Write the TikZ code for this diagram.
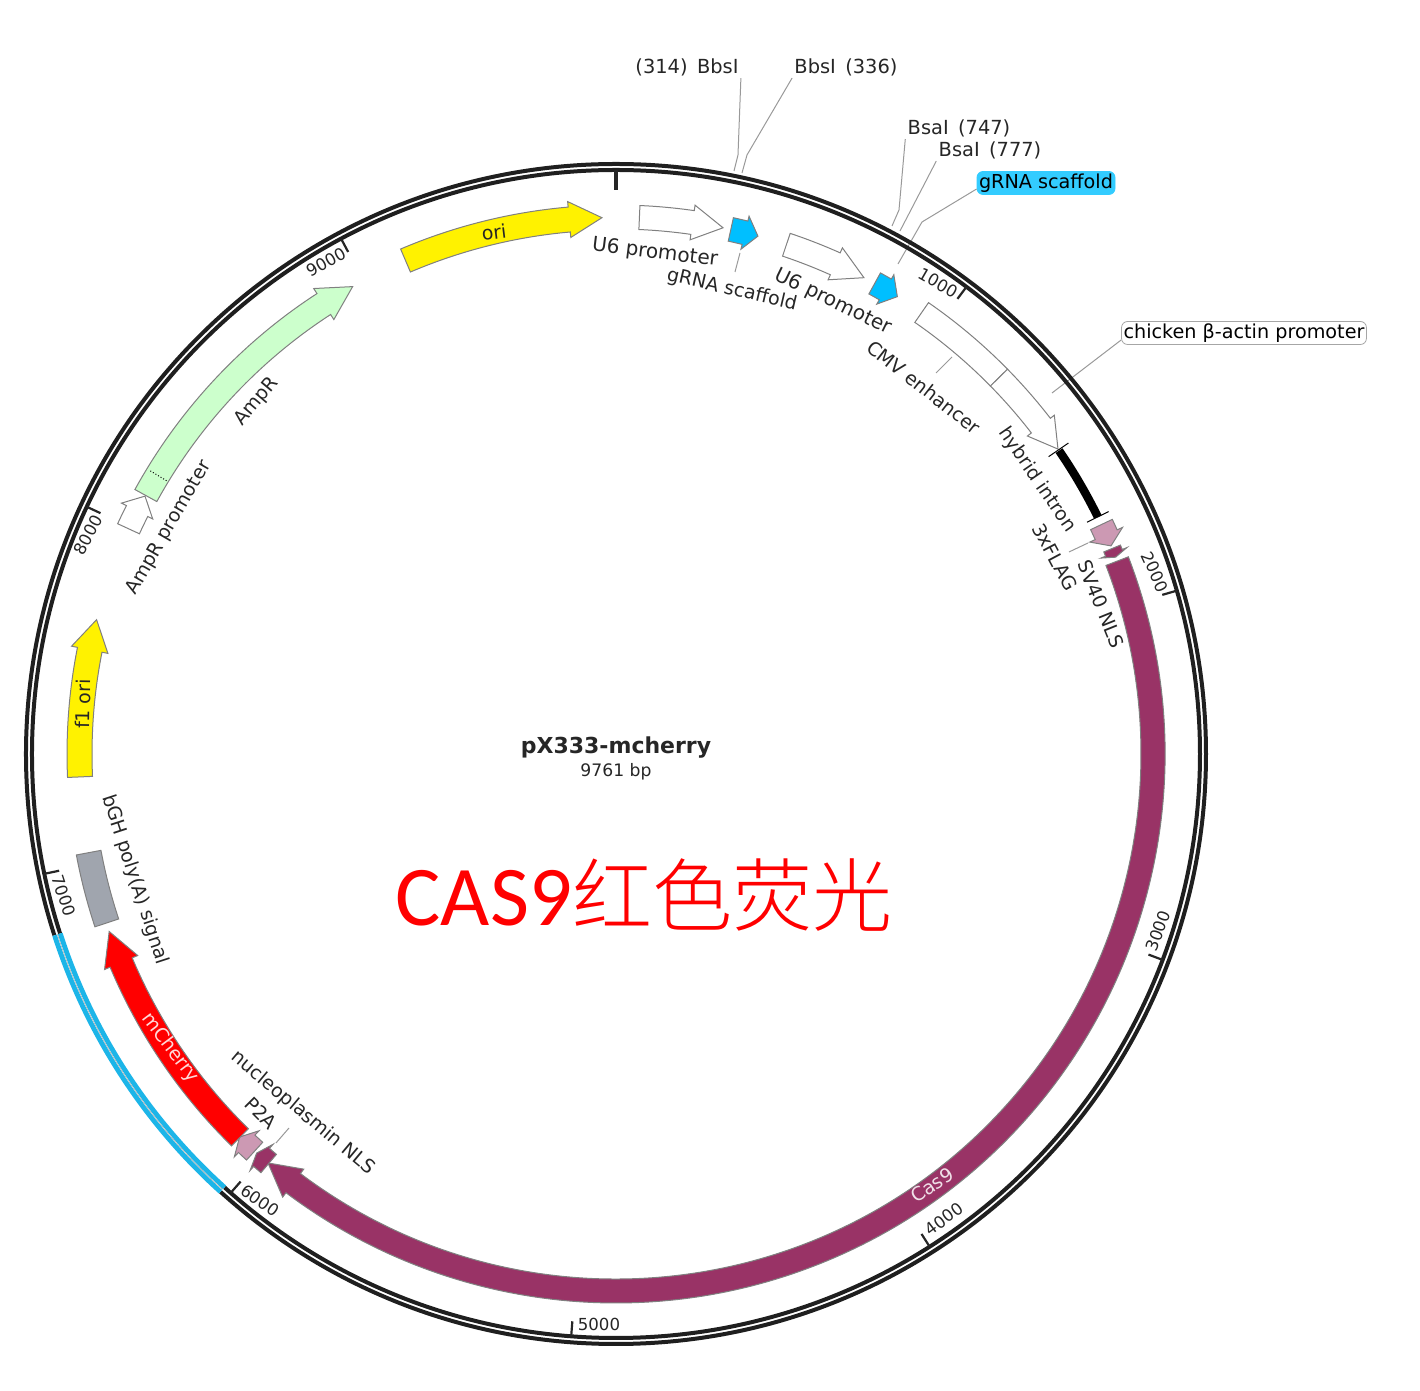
\documentclass[tikz,border=0pt]{standalone}
\usepackage{fontspec}
\setmainfont{DejaVu Sans}
\newfontfamily\calfont{Carlito}
\newfontfamily\cjkfont{Noto Sans CJK SC Light}
\usepackage{xcolor}
\usepackage{tikz}
\usetikzlibrary{positioning, calc}

\definecolor{feablue}{HTML}{00BFFF}
\definecolor{ringblue}{HTML}{1CB5E8}
\definecolor{tagblue}{HTML}{33CCFF}
\definecolor{casred}{HTML}{993366}
\definecolor{flagpink}{HTML}{CC99B3}
\definecolor{polygrey}{HTML}{A0A5AE}
\definecolor{ampgreen}{HTML}{CCFFCC}

% fill, tail angle, tip angle, head angle, inner r, outer r, barb
\newcommand{\featarrow}[7]{
  \draw[feat, fill=#1] (#2:#5) -- (#2:#6) arc[start angle=#2, end angle=#4, radius=#6]
    -- (#4:{#6+#7}) -- (#3:{(#5+#6)/2}) -- (#4:{#5-#7}) -- (#4:#5)
    arc[start angle=#4, end angle=#2, radius=#5] -- cycle;
}

\begin{document}
\begin{tikzpicture}[
    x=0.5pt, y=0.5pt,
    ring/.style={draw=black!88, line width=2pt},
    ringb/.style={draw=ringblue, line width=2.4pt},
    tick/.style={draw=black!85, line width=1.1pt},
    feat/.style={draw=black!50, line width=0.5pt, line join=miter},
    lead/.style={draw=black!40, line width=0.5pt},
    lab/.style={inner sep=0pt, font=\fontsize{9.5}{12}\selectfont, text=black!85},
    site/.style={inner sep=1pt, font=\fontsize{9.7}{11}\selectfont, text=black!85},
    num/.style={inner sep=0pt, font=\fontsize{8.3}{10}\selectfont, text=black!85},
    tagbox/.style={draw, rounded corners=3pt, inner sep=1pt, minimum height=11.5pt, font=\fontsize{9.6}{11}\selectfont},
  ]
  \useasboundingbox (-616,754) rectangle (804,-637);

  % Site labels and leaders
  \node[site] (bbs314) at (71,687) {(314)\, BbsI};
  \node[site] (bbs336) at (230,687) {BbsI\, (336)};
  \node[site] (bsa747) at (343,626) {BsaI\, (747)};
  \node[site] (bsa777) at (374,604) {BsaI\, (777)};
  \node[tagbox, draw=tagblue, fill=tagblue, minimum width=69pt] (tagscaf) at (430,571) {gRNA scaffold};
  \node[tagbox, draw=black!35, fill=white, minimum width=122pt] (tagact) at (628,421) {chicken β-actin promoter};
  \coordinate (c314a) at (122,599);
  \coordinate (c314b) at (118,583);
  \coordinate (c336a) at (131,599);
  \coordinate (c336b) at (126,581);
  \coordinate (c747a) at (283,544);
  \coordinate (c747b) at (276,528);
  \coordinate (c777) at (284,523);
  \coordinate (cscafa) at (306,532);
  \coordinate (cscafb) at (282,490);
  \coordinate (cact) at (436,361);
  \draw[lead] (bbs314.south east) -- (c314a) -- (c314b);
  \draw[lead] (bbs336.south west) -- (c336a) -- (c336b);
  \draw[lead] (bsa747.south west) -- (c747a) -- (c747b);
  \draw[lead] (bsa777.south west) -- (c777);
  \draw[lead] ([yshift=-3pt]tagscaf.west) -- (cscafa) -- (cscafb);
  \draw[lead] ([yshift=-3.5pt]tagact.west) -- (cact);

  % Backbone
  \draw[ring] (0,0) circle[radius=590];
  \draw[ring] (0,0) circle[radius=584];
  \fill[white] (197.9:580.5) arc[start angle=197.9, end angle=227.9, radius=580.5]
    -- (227.9:593.5) arc[start angle=227.9, end angle=197.9, radius=593.5] -- cycle;
  \draw[ringb] (197.9:590) arc[start angle=197.9, end angle=227.9, radius=590];
  \draw[ringb] (197.9:584) arc[start angle=197.9, end angle=227.9, radius=584];
  \draw[draw=black!30, line width=0.3pt] (197.9:587) arc[start angle=197.9, end angle=227.9, radius=587];

  % Ticks
  \draw[tick, line width=2pt] (90:584) -- (90:564);
  \foreach \tickang in {53.12, 16.24, -20.64, -57.52, -94.4, -131.28, -168.16, 154.96, 118.08}
    \draw[tick] (\tickang:584) -- (\tickang:569);
  \node[num, rotate=-30] (n1000) at (322,471) {1000};
  \node[num, rotate=-65] (n2000) at (539,182) {2000};
  \node[num, rotate=70] (n3000) at (542,-177) {3000};
  \node[num, rotate=37] (n4000) at (328,-465) {4000};
  \node[num] (n5000) at (-17,-570) {5000};
  \node[num, rotate=-35] (n6000) at (-356,-447) {6000};
  \node[num, rotate=-72] (n7000) at (-552,-142) {7000};
  \node[num, rotate=62] (n8000) at (-528,219) {8000};
  \node[num, rotate=29] (n9000) at (-290,492) {9000};

  % Features
  \featarrow{yellow}{113.1}{91.5}{95}{524}{549}{5.5}
  \featarrow{white}{87.5}{78.5}{81.8}{525}{549}{5.5}
  \featarrow{feablue}{77.65}{74.67}{76.1}{525}{549}{5}
  \featarrow{white}{71.5}{62.5}{65.9}{525}{549}{5.5}
  \featarrow{feablue}{61.2}{58.4}{59.9}{525}{549}{5}
  \draw[feat, fill=white] (55.3:525) -- (55.3:549) arc[start angle=55.3, end angle=44.5, radius=549] -- (44.5:525) arc[start angle=44.5, end angle=55.3, radius=525] -- cycle;
  \featarrow{white}{44.5}{34.6}{37.7}{525}{549}{5}
  \draw[line width=4.2pt] (34.4:537) arc[start angle=34.4, end angle=26.2, radius=537];
  \draw[line width=0.5pt] (34.5:525) -- (34.5:549);
  \draw[line width=0.5pt] (26.2:525) -- (26.2:549);
  \featarrow{flagpink}{25.3}{22.8}{24.1}{525}{549}{6}
  \featarrow{casred}{22.5}{21.5}{22}{528}{546}{5}
  \featarrow{casred}{21.05}{-130.4}{-126.95}{525}{549}{5.5}
  \featarrow{casred}{-130.3}{-132}{-131.3}{525}{549}{5.5}
  \featarrow{flagpink}{-132.3}{-134.5}{-133.45}{525}{549}{6}
  \featarrow{red}{-134.45}{-160.7}{-157.15}{525}{549}{6}
  \draw[feat, fill=polygrey] (190.6:524) -- (190.6:549) arc[start angle=190.6, end angle=198.35, radius=549] -- (198.35:524) arc[start angle=198.35, end angle=190.6, radius=524] -- cycle;
  \featarrow{yellow}{182.45}{165.5}{168.8}{524}{549}{6}
  \featarrow{white}{155.2}{151.3}{153.1}{525}{549}{5.5}
  \featarrow{ampgreen}{151.2}{119.4}{123}{524}{549}{6}
  \draw[densely dotted, line width=0.5pt] (148.7:526) -- (148.7:547);

  % Feature labels
  \node[lab, rotate=7] (ori) at (-122,522) {ori};
  \node[lab, font=\fontsize{10}{12}\selectfont, rotate=-7] (u6a) at (39,501) {U6 promoter};
  \node[lab, rotate=-13] (scafa) at (116,464) {gRNA scaffold};
  \node[lab, font=\fontsize{10}{12}\selectfont, rotate=-26] (u6b) at (217,452) {U6 promoter};
  \node[lab, rotate=-38] (cmv) at (308,367) {CMV enhancer};
  \node[lab, rotate=-55.5] (intron) at (421,274) {hybrid intron};
  \node[lab, rotate=-62] (flag) at (439,197) {3xFLAG};
  \node[lab, rotate=-68] (sv40) at (485,150) {SV40 NLS};
  \node[lab, rotate=33, text=casred!15] (cas9) at (316,-431) {Cas9};
  \node[lab, rotate=-53, text=red!15] (mcherry) at (-446,-294) {mCherry};
  \node[lab, rotate=-40] (nucleo) at (-313,-359) {nucleoplasmin NLS};
  \node[lab, rotate=-45] (p2a) at (-355,-359) {P2A};
  \node[lab, rotate=-72] (bgh) at (-481,-126) {bGH poly(A) signal};
  \node[lab, rotate=50] (ampr) at (-359,352) {AmpR};
  \node[lab, rotate=60] (amprp) at (-447,226) {AmpR promoter};
  \node[lab, rotate=89] (f1ori) at (-533,50) {f1 ori};

  % Short leaders
  \coordinate (cscafc) at (124,501);
  \coordinate (cscafd) at (119,482);
  \coordinate (ccmva) at (336,397);
  \coordinate (ccmvb) at (320,381);
  \coordinate (cflaga) at (472,211);
  \coordinate (cflagb) at (453,202);
  \coordinate (cnuca) at (-327,-374);
  \coordinate (cnucb) at (-340,-389);
  \draw[lead] (cscafc) -- (cscafd);
  \draw[lead] (ccmva) -- (ccmvb);
  \draw[lead] (cflaga) -- (cflagb);
  \draw[lead] (cnuca) -- (cnucb);

  % Centre
  \node[inner sep=0pt, text=black!85, font=\bfseries\fontsize{11}{13}\selectfont] (title) at (0,6) {pX333-mcherry};
  \node[num, font=\fontsize{8.6}{10}\selectfont] (size) at (0,-18) {9761 bp};
  \node[inner sep=0pt, text=red, font=\fontsize{42.5}{50}\selectfont] (note) at (28,-141) {\calfont CAS9\cjkfont\fontsize{40}{50}\selectfont 红色荧光};
\end{tikzpicture}
\end{document}
